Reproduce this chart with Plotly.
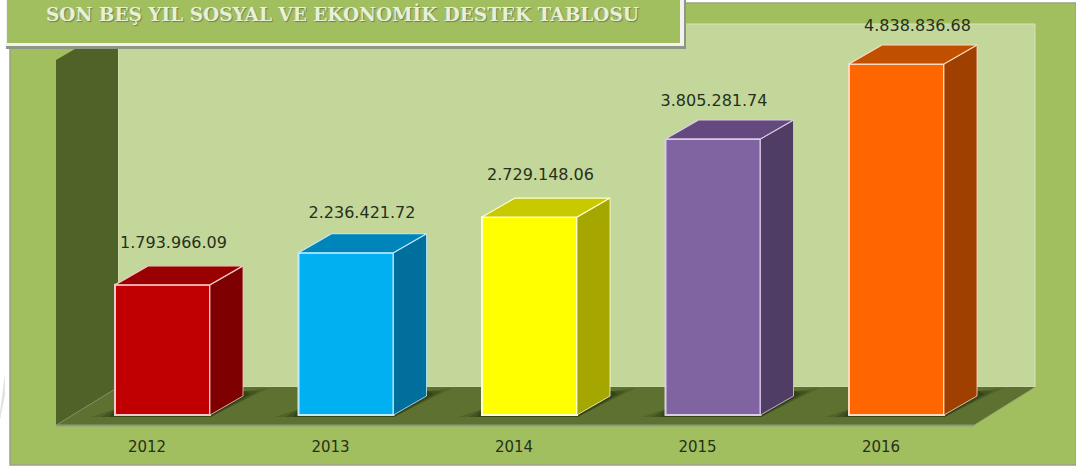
import plotly.graph_objects as go

years = ["2012", "2013", "2014", "2015", "2016"]
values = [1793966.09, 2236421.72, 2729148.06, 3805281.74, 4838836.68]
front_colors = ["#C00000", "#00B0F0", "#FFFF00", "#8064A2", "#FF6600"]
top_colors = ["#990000", "#0085BA", "#C9C900", "#64497F", "#C04F00"]
side_colors = ["#7F0000", "#006F9C", "#A6A600", "#503D66", "#A04000"]
edge_colors = ["#F2C9C9", "#BFEBFF", "#FFFFCC", "#D9CCE6", "#FFD9BF"]
title_text = "SON BEŞ YIL SOSYAL VE EKONOMİK DESTEK TABLOSU"

W, H = 1076, 468
BASE_Y = 415
PX_PER_UNIT = 351 / 4838836.68
STEP = 183.5
X0 = 162.5
DX = 33 / STEP
DY = 19 / PX_PER_UNIT
HALF = 47.5 / STEP
TICK_SHIFT = 15.5 / STEP
label_dx = [11, 16, 11, 1, 21]
label_rise = [41, 39, 41, 37, 37]

def px(x): return x / W
def py(y): return 1 - y / H
def poly(pts):
    return "M " + " L ".join(f"{px(a):.5f},{py(b):.5f}" for a, b in pts) + " Z"
def shape(pts, fill, line=None, lw=0, layer="below"):
    return dict(type="path", xref="paper", yref="paper", path=poly(pts), fillcolor=fill,
                line=dict(color=line or "rgba(0,0,0,0)", width=lw), layer=layer)

fig = go.Figure()

shapes = [
    shape([(10, 3), (1076, 3), (1076, 465), (10, 465)], "#A2BF60", "#9AA38A", 1.5),
    shape([(118, 24), (1035, 24), (1035, 387), (118, 387)], "#C4D79B", "#D5E2B8", 1),
    shape([(56, 60), (118, 24), (118, 387), (56, 425)], "#4F6228"),
    shape([(56, 425), (974, 425), (1035, 387), (118, 387)], "#5D7230"),
    shape([(56, 425), (974, 425), (974, 426), (56, 426)], "#8F9A7E", "#8F9A7E", 1),
    shape([(56, 425), (118, 387), (119, 387), (57, 425)], "#8E9A7C"),
    shape([(974, 425), (1035, 387), (1036, 387), (975, 425)], "#8E9A7C"),
    shape([(0, 412), (5, 373), (5, 395), (0, 420)], "#E2E2E2"),
]
# soft contact shadows on the floor, layered around each bar
for i in range(5):
    cx = X0 + STEP * i
    for grow, alpha in ((24, 0.22), (14, 0.3), (6, 0.4)):
        shapes.append(shape([(cx - 47 - grow, 417), (cx + 48, 417), (cx + 82 + grow, 396 - grow / 3),
                             (cx + 82, 391), (cx + 47, 403), (cx - 47, 409)],
                            f"rgba(35,45,15,{alpha})"))

# title box
shapes += [
    shape([(6, -2), (686, -2), (686, 49), (6, 49)], "#8E9686", layer="above"),
    shape([(6, -2), (684, -2), (684, 46), (6, 46)], "#F1F3EC", layer="above"),
    shape([(7, -2), (680, -2), (680, 43), (7, 43)], "#A2BF60", layer="above"),
]

# side and top faces, projected from each bar's value
for i, v in enumerate(values):
    l, r = i - HALF, i + HALF
    fig.add_trace(go.Scatter(x=[r, r + DX, r + DX, r, r], y=[0, DY, v + DY, v, 0], mode="lines",
                             fill="toself", fillcolor=side_colors[i],
                             line=dict(color=edge_colors[i], width=0.8), hoverinfo="skip", showlegend=False))
    fig.add_trace(go.Scatter(x=[l, l + DX, r + DX, r, l], y=[v, v + DY, v + DY, v, v], mode="lines",
                             fill="toself", fillcolor=top_colors[i],
                             line=dict(color=edge_colors[i], width=1.2), hoverinfo="skip", showlegend=False))

fig.add_trace(go.Bar(x=list(range(5)), y=values, width=2 * HALF,
                     marker=dict(color=front_colors, line=dict(color=edge_colors, width=2)),
                     showlegend=False))

fig.add_trace(go.Scatter(
    x=[i + label_dx[i] / STEP for i in range(5)],
    y=[v + label_rise[i] / PX_PER_UNIT for i, v in enumerate(values)],
    mode="text",
    text=[f"{v:,.2f}".replace(",", ".") for v in values],
    textposition="middle center",
    textfont=dict(family="DejaVu Sans", size=16, color="#26301A"),
    showlegend=False))

fig.update_layout(
    width=W, height=H, margin=dict(l=0, r=0, t=0, b=0),
    paper_bgcolor="white", plot_bgcolor="rgba(0,0,0,0)",
    shapes=shapes,
    xaxis=dict(range=[-X0 / STEP, (W - X0) / STEP], tickmode="array",
               tickvals=[i - TICK_SHIFT for i in range(5)],
               ticktext=years, showgrid=False, zeroline=False, showline=False,
               ticks="outside", ticklen=8, tickcolor="rgba(0,0,0,0)",
               tickfont=dict(family="DejaVu Sans", size=15, color="#26301A")),
    yaxis=dict(domain=[1 - 425 / H, 1], range=[(BASE_Y - 425) / PX_PER_UNIT, BASE_Y / PX_PER_UNIT],
               visible=False),
    annotations=[dict(text=f"<b>{title_text}</b>", xref="paper", yref="paper",
                      x=px(342), y=py(14), xanchor="center", yanchor="middle", showarrow=False,
                      font=dict(family="DejaVu Serif", size=18.5, color="#E8F0D8",
                                shadow="1px 1px 1px #6F7F50"))],
)
fig.write_html("out.html", config={"displayModeBar": False},
               post_script="document.body.style.margin='0';document.body.style.overflow='hidden';")
